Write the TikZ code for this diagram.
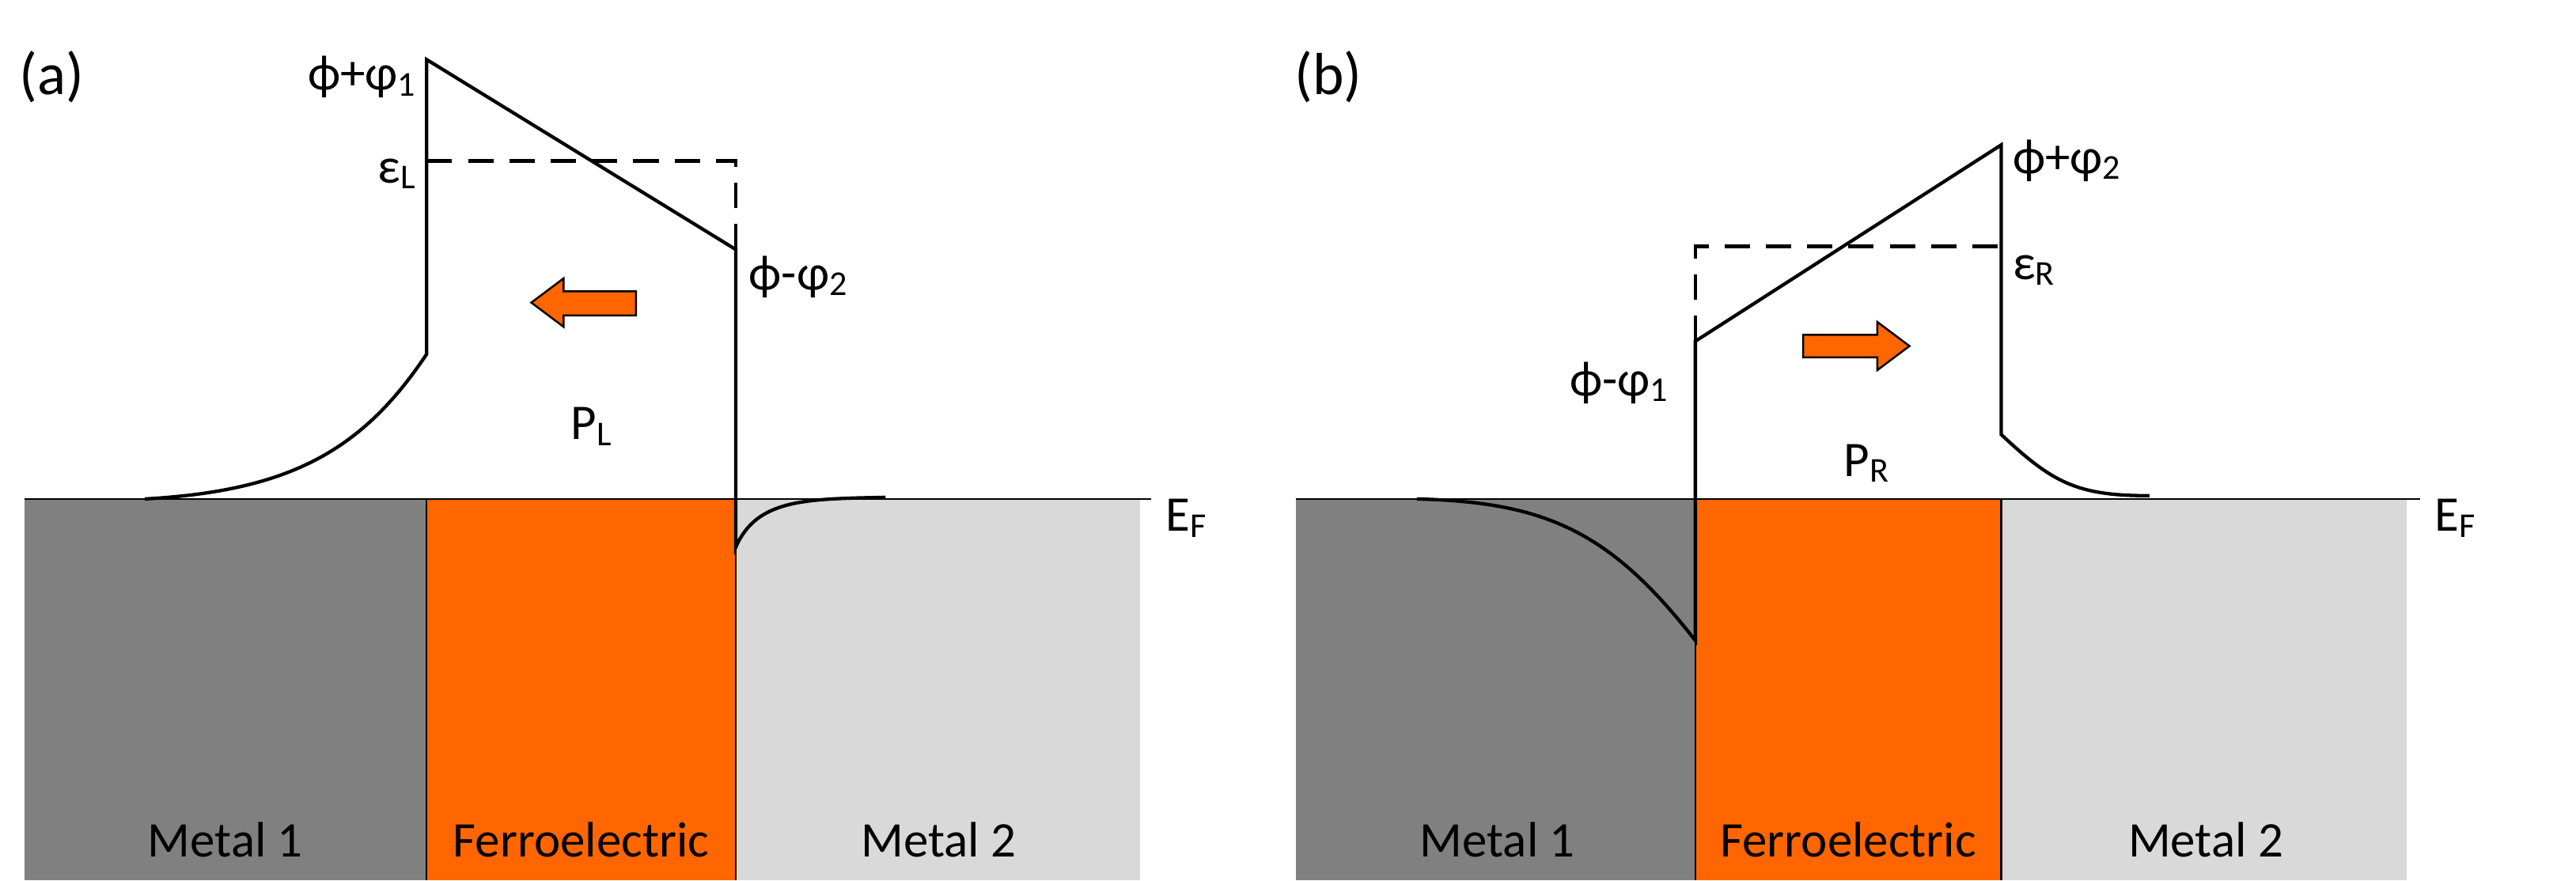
\documentclass[tikz,border=0pt]{standalone}
\usepackage{fontspec}
\setmainfont{Carlito}
\definecolor{dkg}{HTML}{808080}
\definecolor{ltg}{HTML}{D9D9D9}
\definecolor{org}{HTML}{FF6600}
\begin{document}
\begin{tikzpicture}[x=0.01cm,y=-0.01cm,
  lbl/.style={font=\fontsize{8.8}{10}\selectfont,inner sep=1pt},
  big/.style={font=\fontsize{10.5}{12}\selectfont,inner sep=1pt},
  band/.style={line width=0.6pt},
  thin/.style={line width=0.3pt},
  dsh/.style={line width=0.6pt,dash pattern=on 4.5pt off 2.8pt},
  polar/.style={draw=black,fill=org,line width=0.35pt}]
\useasboundingbox (0,0) rectangle (1600,547);
% ---- panel (a)
\fill[dkg] (15,310) rectangle (265,547);
\fill[org] (265,310) rectangle (457,547);
\fill[ltg] (457,310) rectangle (708,547);
\draw[thin] (265,310)--(265,547) (457,310)--(457,547);
\draw[thin] (15,310)--(715,310);
\draw[band] (90,310) .. controls (180,305) and (225,280) .. (265,220) -- (265,37) -- (457,155) -- (457,310) -- (457,340) .. controls (470,310) and (500,310) .. (550,309);
\draw[dsh] (265,100) -- (457,100) -- (457,155);
\node[big,anchor=west] (la) at (8,48) {(a)};
\node[lbl,anchor=east] (a1) at (264,48) {ϕ+φ\textsubscript{1}};
\node[lbl,anchor=east] (a2) at (264,108) {ε\textsubscript{L}};
\node[lbl,anchor=west] (a3) at (461,172) {ϕ-φ\textsubscript{2}};
\draw[polar] (330,188) -- (350,173) -- (350,181) -- (395,181) -- (395,196) -- (350,196) -- (350,203) -- cycle;
\node[lbl] (pla) at (368,265) {P\textsubscript{L}};
\node[lbl,anchor=west] (efa) at (720,322) {E\textsubscript{F}};
\node[lbl] (m1a) at (140,522) {Metal 1};
\node[lbl] (fa) at (361,522) {Ferroelectric};
\node[lbl] (m2a) at (583,522) {Metal 2};
% ---- panel (b)
\fill[dkg] (805,310) rectangle (1053,547);
\fill[org] (1053,310) rectangle (1243,547);
\fill[ltg] (1243,310) rectangle (1495,547);
\draw[thin] (1053,310)--(1053,547) (1243,310)--(1243,547);
\draw[thin] (805,310)--(1503,310);
\draw[band] (880,310) .. controls (960,312) and (1000,330) .. (1053,398) -- (1053,212) -- (1243,90) -- (1243,270) .. controls (1275,300) and (1290,308) .. (1335,308);
\draw[dsh] (1053,212) -- (1053,153) -- (1243,153);
\node[big,anchor=west] (lb) at (800,48) {(b)};
\node[lbl,anchor=west] (b1) at (1246,100) {ϕ+φ\textsubscript{2}};
\node[lbl,anchor=west] (b2) at (1246,168) {ε\textsubscript{R}};
\node[lbl,anchor=east] (b3) at (1042,238) {ϕ-φ\textsubscript{1}};
\draw[polar] (1186,215) -- (1166,200) -- (1166,208) -- (1120,208) -- (1120,222) -- (1166,222) -- (1166,230) -- cycle;
\node[lbl] (plb) at (1160,288) {P\textsubscript{R}};
\node[lbl,anchor=west] (efb) at (1508,322) {E\textsubscript{F}};
\node[lbl] (m1b) at (930,522) {Metal 1};
\node[lbl] (fb) at (1148,522) {Ferroelectric};
\node[lbl] (m2b) at (1370,522) {Metal 2};
\end{tikzpicture}
\end{document}
